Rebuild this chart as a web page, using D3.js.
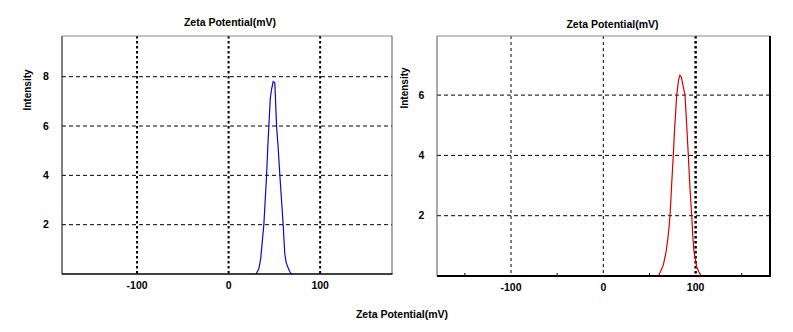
<!DOCTYPE html>
<html><head><meta charset="utf-8">
<script src="https://cdn.jsdelivr.net/npm/d3@7"></script>
<style>body{margin:0;background:#fff}svg{display:block}text{font-family:"Liberation Sans",Arial,sans-serif;font-weight:bold;fill:#000}</style>
</head><body><div id="c"></div>
<script>
const leftX = [30, 33, 35, 37, 38.5, 40, 41.5, 43, 44, 45.5, 47, 48.7, 50.5, 52.4, 54, 56, 58, 59.6, 61.4, 63, 65, 67, 68.7];
const leftY = [0, 0.2, 0.6, 1.4, 2, 3, 4, 5.3, 6, 7.1, 7.5, 7.8, 7.75, 6, 5.2, 4, 2.9, 2, 0.8, 0.45, 0.25, 0.08, 0];
const rightX = [59.6, 62, 65, 68, 70.4, 72.3, 74, 75.8, 77.5, 79.5, 81.5, 83, 84.5, 86.5, 88.5, 90, 92.1, 93.9, 95.8, 97, 98.3, 101.2, 104, 106.6];
const rightY = [0, 0.15, 0.36, 0.8, 1.36, 2, 3, 4, 5, 6, 6.5, 6.66, 6.6, 6.3, 6, 5.2, 4, 2.9, 2, 1.3, 0.8, 0.3, 0.1, 0];
const xTicks = [-100, 0, 100];
const leftYTicks = [2, 4, 6, 8];
const rightYTicks = [2, 4, 6];
const minorTicks = [-150, -50, 50, 150];
const titleText = "Zeta Potential(mV)";
const yLabel = "Intensity";

const svg = d3.select("#c").append("svg").attr("width", 793).attr("height", 332);

function panel(o) {
  const x = d3.scaleLinear().domain(o.xd).range([o.x0, o.x1]);
  const y = d3.scaleLinear().domain(o.yd).range([o.y1, o.y0]);
  const g = svg.append("g");
  g.selectAll(".hg").data(o.yTicks).join("line")
    .attr("x1", o.x0).attr("x2", o.x1).attr("y1", d => y(d)).attr("y2", d => y(d))
    .attr("stroke", "#000").attr("stroke-width", 1).attr("stroke-dasharray", "4,3");
  g.selectAll(".vg").data(xTicks).join("line")
    .attr("x1", d => x(d)).attr("x2", d => x(d)).attr("y1", o.y0).attr("y2", o.y1)
    .attr("stroke", "#000").attr("stroke-width", (d, i) => o.vw[i]).attr("stroke-dasharray", (d, i) => o.vd[i]);
  const pts = o.xs.map((v, i) => [v, o.ys[i]]);
  g.append("path").datum(pts)
    .attr("d", d3.line().x(d => x(d[0])).y(d => y(d[1])))
    .attr("fill", "none").attr("stroke", o.color).attr("stroke-width", 1.2);
  g.append("line").attr("x1", o.x0).attr("x2", o.x1).attr("y1", o.y0).attr("y2", o.y0).attr("stroke", "#888").attr("stroke-width", 1);
  g.append("line").attr("x1", o.x0).attr("x2", o.x0).attr("y1", o.y0).attr("y2", o.y1).attr("stroke", o.leftC).attr("stroke-width", 1);
  g.append("line").attr("x1", o.x1).attr("x2", o.x1).attr("y1", o.y0).attr("y2", o.y1).attr("stroke", o.rightC).attr("stroke-width", o.rightW);
  g.append("line").attr("x1", o.x0).attr("x2", o.x1 + o.rightW / 2).attr("y1", o.y1).attr("y2", o.y1).attr("stroke", "#000").attr("stroke-width", o.botW);
  if (o.minor) {
    g.selectAll(".mt").data(minorTicks).join("line")
      .attr("x1", d => x(d)).attr("x2", d => x(d)).attr("y1", o.y1).attr("y2", o.y1 - 3)
      .attr("stroke", "#000").attr("stroke-width", 1);
  }
  g.selectAll(".xl").data(xTicks).join("text")
    .attr("x", d => x(d)).attr("y", o.y1 + 15).attr("text-anchor", "middle").attr("font-size", 10.5)
    .text(d => d);
  g.selectAll(".yl").data(o.yTicks).join("text")
    .attr("x", o.ylx).attr("y", d => y(d) + 3.5).attr("text-anchor", "middle").attr("font-size", 10.5)
    .text(d => d);
  g.append("text").attr("x", o.tx).attr("y", o.ty).attr("text-anchor", "middle").attr("font-size", 10.5).text(titleText);
  g.append("text").attr("transform", `translate(${o.ilx},${o.ily}) rotate(-90)`).attr("text-anchor", "middle").attr("font-size", 10).text(yLabel);
}

panel({x0: 62, x1: 392, y0: 36, y1: 274, xd: [-182, 178.5], yd: [0, 9.65],
  yTicks: leftYTicks, xs: leftX, ys: leftY, color: "#0a0ac0",
  vw: [2, 2, 2], vd: ["2.5,2.5", "2.5,2.5", "2.5,2.5"],
  leftC: "#000", rightC: "#555", rightW: 1, botW: 1.5, minor: false,
  ylx: 46, tx: 230, ty: 26, ilx: 31, ily: 90});

panel({x0: 437, x1: 770, y0: 36, y1: 276, xd: [-180.2, 180.6], yd: [0, 7.96],
  yTicks: rightYTicks, xs: rightX, ys: rightY, color: "#d40000",
  vw: [1, 1, 2.5], vd: ["3,3", "3,3", "2.5,2.5"],
  leftC: "#555", rightC: "#000", rightW: 2, botW: 2, minor: true,
  ylx: 421.5, tx: 612.5, ty: 28, ilx: 408, ily: 88});

svg.append("text").attr("x", 402).attr("y", 318).attr("text-anchor", "middle").attr("font-size", 10.5).text(titleText);
</script></body></html>
